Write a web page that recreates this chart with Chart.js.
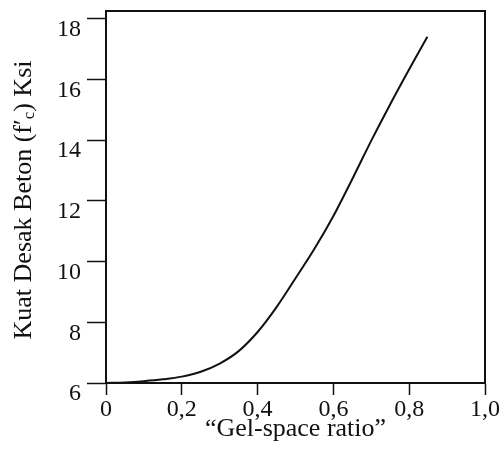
<!DOCTYPE html>
<html>
<head>
<meta charset="utf-8">
<script src="https://cdn.jsdelivr.net/npm/chart.js@4/dist/chart.umd.min.js"></script>
<style>
  html, body { margin: 0; padding: 0; background: #fff; }
  #wrap { width: 502px; height: 462px; position: relative; }
</style>
</head>
<body>
<div id="wrap"><canvas id="chartGel"></canvas></div>
<script>
// DADOS - kuat desak vs gel-space ratio
const gelSpaceRatio = [0, 0.05, 0.1, 0.15, 0.2, 0.25, 0.3, 0.35, 0.4, 0.45, 0.5, 0.55, 0.6, 0.65, 0.7, 0.75, 0.8, 0.848];
const kuatDesak = [6.0, 6.02, 6.06, 6.12, 6.21, 6.37, 6.64, 7.05, 7.68, 8.5, 9.45, 10.42, 11.5, 12.72, 13.98, 15.18, 16.33, 17.4];
const xTicks = [0, 0.2, 0.4, 0.6, 0.8, 1.0];
const yTicks = [6, 8, 10, 12, 14, 16, 18];

const xTitle = '\u201CGel-space ratio\u201D';
const yTitleParts = ['Kuat Desak Beton (f\u2032', 'c', ') Ksi'];

const ink = '#111';
const serif = '"Liberation Serif", "DejaVu Serif", serif';

// TITULOS DOS EIXOS E MOLDURA
const axisTitles = {
  id: 'axisTitles',
  afterDraw(chart) {
    const ctx = chart.ctx;
    const area = chart.chartArea;

    // moldura (topo e direita)
    ctx.save();
    ctx.strokeStyle = ink;
    ctx.lineWidth = 2;
    ctx.beginPath();
    ctx.moveTo(area.left, area.top);
    ctx.lineTo(area.right, area.top);
    ctx.lineTo(area.right, area.bottom);
    ctx.stroke();
    ctx.restore();

    // eixo x
    ctx.save();
    ctx.fillStyle = ink;
    ctx.font = '26px ' + serif;
    ctx.textAlign = 'center';
    ctx.textBaseline = 'middle';
    ctx.fillText(xTitle, (area.left + area.right) / 2, 429);
    ctx.restore();

    // eixo y com indice c
    ctx.save();
    ctx.fillStyle = ink;
    ctx.textBaseline = 'middle';
    ctx.translate(24, 200);
    ctx.rotate(-Math.PI / 2);
    const big = '26px ' + serif;
    const small = '17px ' + serif;
    ctx.font = big;
    const w0 = ctx.measureText(yTitleParts[0]).width;
    const w2 = ctx.measureText(yTitleParts[2]).width;
    ctx.font = small;
    const w1 = ctx.measureText(yTitleParts[1]).width;
    let x = -(w0 + w1 + w2) / 2;
    ctx.textAlign = 'left';
    ctx.font = big;
    ctx.fillText(yTitleParts[0], x, 0);
    x += w0;
    ctx.font = small;
    ctx.fillText(yTitleParts[1], x, 6);
    x += w1;
    ctx.font = big;
    ctx.fillText(yTitleParts[2], x, 0);
    ctx.restore();
  }
};

function initChart() {
  const ctx = document.getElementById('chartGel');
  if (!ctx) return;

  new Chart(ctx, {
    type: 'line',
    data: {
      datasets: [{
        data: gelSpaceRatio.map((v, i) => ({ x: v, y: kuatDesak[i] })),
        borderColor: ink,
        borderWidth: 2,
        pointRadius: 0,
        fill: false,
        cubicInterpolationMode: 'monotone'
      }]
    },
    options: {
      responsive: true,
      maintainAspectRatio: false,
      animation: false,
      layout: { padding: { top: 11, right: 17, left: 0, bottom: 0 } },
      plugins: {
        legend: { display: false },
        tooltip: { enabled: false }
      },
      scales: {
        x: {
          type: 'linear',
          min: 0,
          max: 1,
          afterBuildTicks: (scale) => { scale.ticks = xTicks.map(v => ({ value: v })); },
          afterFit: (scale) => {
            scale.height = 79;
            scale.paddingLeft = 0;
            scale.paddingRight = 0;
          },
          grid: {
            drawOnChartArea: false,
            drawTicks: true,
            tickLength: 12,
            tickColor: ink,
            tickWidth: 1.5
          },
          border: { display: true, color: ink, width: 2 },
          ticks: {
            color: ink,
            padding: 0,
            maxRotation: 0,
            font: { family: serif, size: 24 },
            callback: (v) => v === 0 ? '0' : v.toFixed(1).replace('.', ',')
          }
        },
        y: {
          type: 'linear',
          min: 6,
          max: 18.25,
          afterBuildTicks: (scale) => { scale.ticks = yTicks.map(v => ({ value: v })); },
          afterFit: (scale) => {
            scale.width = 106;
            scale.paddingTop = 0;
            scale.paddingBottom = 0;
          },
          grid: {
            drawOnChartArea: false,
            drawTicks: true,
            tickLength: 19,
            tickColor: ink,
            tickWidth: 1.5
          },
          border: { display: true, color: ink, width: 2 },
          ticks: {
            color: ink,
            padding: 6,
            labelOffset: 11,
            font: { family: serif, size: 24 },
            callback: (v) => String(v)
          }
        }
      }
    },
    plugins: [axisTitles]
  });
}

initChart();
</script>
</body>
</html>
